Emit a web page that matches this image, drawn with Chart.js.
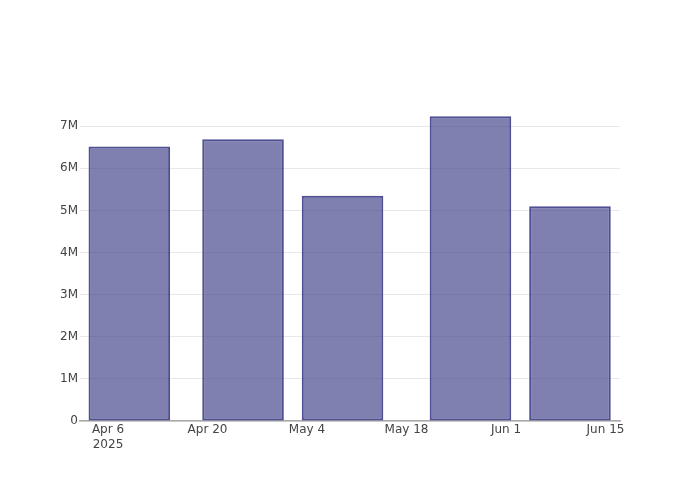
<!DOCTYPE html>
<html>
<head>
<meta charset="utf-8">
<script src="https://cdn.jsdelivr.net/npm/chart.js@4"></script>
<style>
  html, body { margin: 0; padding: 0; background: #fff; }
  #wrap { width: 700px; height: 500px; }
</style>
</head>
<body>
<div id="wrap"><canvas id="grafico" width="700" height="500"></canvas></div>
<script>
// datos
const fechas = ["2025-04-09", "2025-04-25", "2025-05-09", "2025-05-27", "2025-06-10"];
const valores = [6520000, 6690000, 5350000, 7240000, 5100000];
const ticksFechas = ["2025-04-06", "2025-04-20", "2025-05-04", "2025-05-18", "2025-06-01", "2025-06-15"];
const ticksY = [0, 1000000, 2000000, 3000000, 4000000, 5000000, 6000000, 7000000];

const meses = ["Jan", "Feb", "Mar", "Apr", "May", "Jun", "Jul", "Aug", "Sep", "Oct", "Nov", "Dec"];
const DIA = 86400000;
const base = Date.UTC(2025, 3, 6);

// dias desde Apr 6
function dias(s) {
    const p = s.split("-").map(Number);
    return (Date.UTC(p[0], p[1] - 1, p[2]) - base) / DIA;
}
function etiqueta(d, primero) {
    const f = new Date(base + d * DIA);
    const txt = meses[f.getUTCMonth()] + " " + f.getUTCDate();
    return primero ? [txt, String(f.getUTCFullYear())] : txt;
}

const puntos = fechas.map((f, i) => ({ x: dias(f), y: valores[i] }));
const posTicks = ticksFechas.map(dias);

Chart.defaults.font.family = "'DejaVu Sans', 'Open Sans', sans-serif";
Chart.defaults.font.size = 12;
Chart.defaults.color = "#444";

new Chart(document.getElementById("grafico"), {
    type: "bar",
    data: {
        datasets: [{
            data: puntos,
            backgroundColor: "rgba(72, 72, 142, 0.7)",
            borderColor: "rgba(35, 35, 120, 0.8)",
            borderWidth: 2,
            borderSkipped: false,
            barPercentage: 0.82,
            categoryPercentage: 1.0
        }]
    },
    options: {
        responsive: false,
        animation: false,
        layout: { padding: { top: 101, right: 80, left: 0, bottom: 0 } },
        plugins: { legend: { display: false }, tooltip: { enabled: false } },
        scales: {
            x: {
                type: "linear",
                offset: false,
                min: -3.94,
                max: 72.04,
                afterFit: s => { s.height = 79; },
                afterBuildTicks: s => { s.ticks = posTicks.map(v => ({ value: v })); },
                ticks: {
                    autoSkip: false,
                    maxRotation: 0,
                    padding: 2,
                    callback: (v, i) => etiqueta(v, i === 0)
                },
                grid: { display: false, offset: false, drawTicks: false },
                border: { display: true, color: "#aaa", width: 1.5 }
            },
            y: {
                min: 0,
                max: 7600000,
                afterFit: s => { s.width = 80; },
                afterBuildTicks: s => { s.ticks = ticksY.map(v => ({ value: v })); },
                ticks: {
                    padding: 2,
                    callback: v => v === 0 ? "0" : (v / 1000000) + "M"
                },
                grid: { color: "#e8e8e8", drawTicks: false },
                border: { display: false }
            }
        }
    }
});
</script>
</body>
</html>
